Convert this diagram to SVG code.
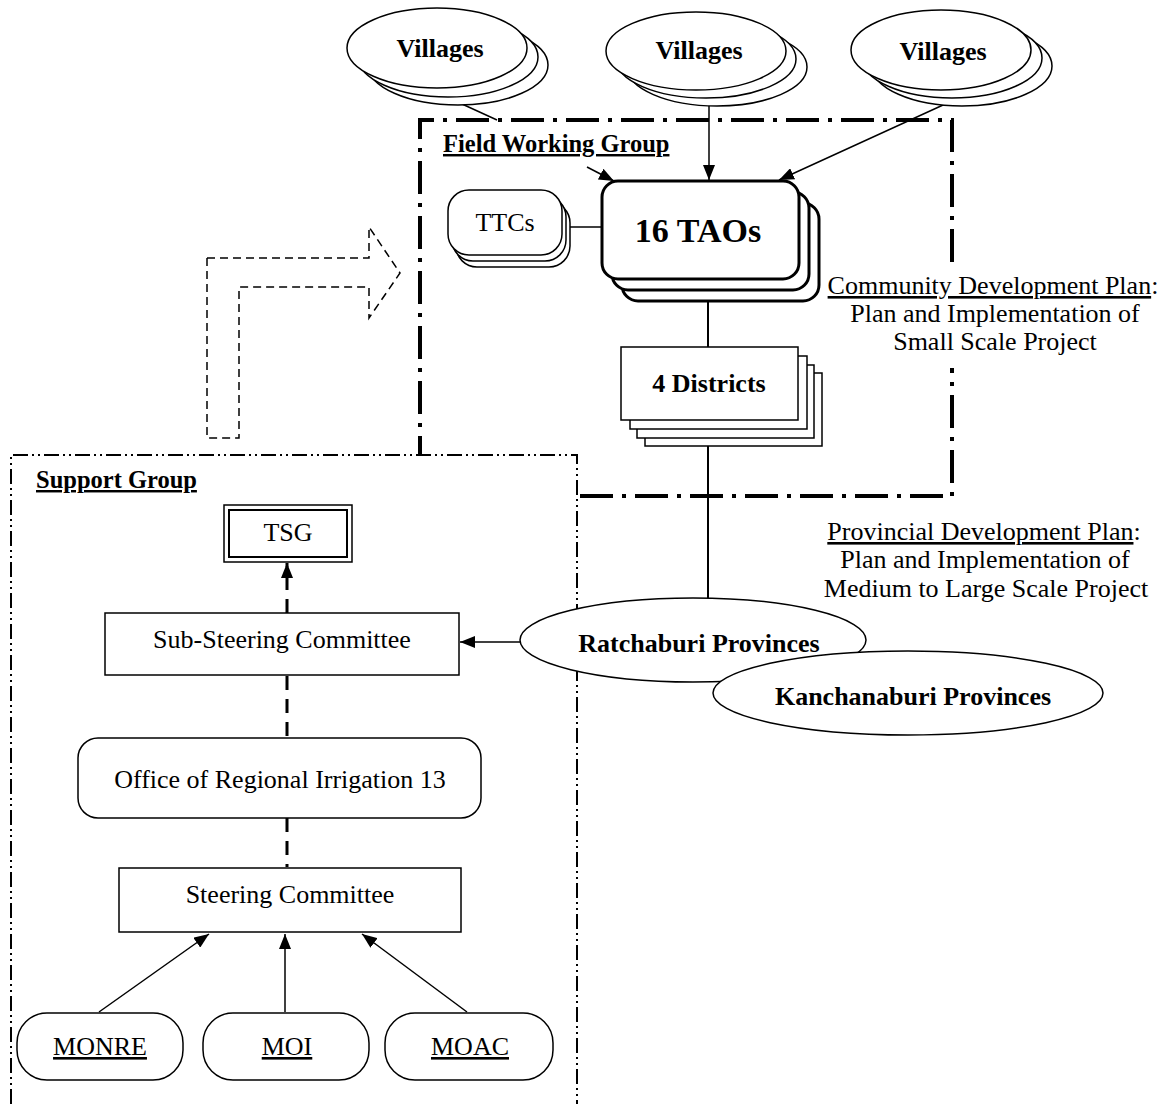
<svg xmlns="http://www.w3.org/2000/svg" width="1168" height="1104" viewBox="0 0 1168 1104">
<style>
text{font-family:"Liberation Serif","Times New Roman",serif;fill:#000}
.t{font-size:26px;text-anchor:middle}
.b{font-size:26px;font-weight:bold;text-anchor:middle}
.lab{font-size:24.5px;font-weight:bold;text-decoration:underline}
.s{fill:#fff;stroke:#000;stroke-width:1.5}
.sk{fill:#fff;stroke:#000;stroke-width:3}
.ln{fill:none;stroke:#000;stroke-width:1.5}
.dl{fill:none;stroke:#000;stroke-width:3;stroke-dasharray:14 9}
</style>
<defs>
<marker id="ah" markerUnits="userSpaceOnUse" markerWidth="16" markerHeight="12" refX="15" refY="6" orient="auto">
<path d="M0,0 L15,6 L0,12 z" fill="#000"/>
</marker>
</defs>

<g id="field-working-group">
<path d="M580,496 H952 V368 M952,262 V120 H420 V455" fill="none" stroke="#000" stroke-width="4" stroke-dasharray="33 9 4 9"/>
<text class="lab" x="443" y="152">Field Working Group</text>
</g>

<g id="support-group">
<path d="M11,1104 V455 H577 V1104" fill="none" stroke="#000" stroke-width="2" stroke-dasharray="15 4 2 4 2 4"/>
<text class="lab" x="36" y="488">Support Group</text>
</g>

<g id="transition-arrow">
<path d="M207,258 H369 V227 L400,273 L369,318 V287 H239 V438 H207 Z" fill="none" stroke="#000" stroke-width="1.5" stroke-dasharray="8 5"/>
</g>

<g id="connectors">
<line class="ln" x1="462" y1="104" x2="497" y2="120"/>
<line class="ln" x1="587" y1="167" x2="614" y2="181" marker-end="url(#ah)"/>
<line class="ln" x1="709" y1="106" x2="709" y2="180" marker-end="url(#ah)"/>
<line class="ln" x1="954" y1="100" x2="779" y2="180" marker-end="url(#ah)"/>
<line class="ln" x1="569" y1="227" x2="602" y2="227"/>
<line x1="708" y1="302" x2="708" y2="347" stroke="#000" stroke-width="2"/>
<line x1="708" y1="446" x2="708" y2="599" stroke="#000" stroke-width="2"/>
<line class="ln" x1="520" y1="642" x2="460" y2="642" marker-end="url(#ah)"/>
<line class="dl" x1="287" y1="613" x2="287" y2="563" marker-end="url(#ah)"/>
<line class="dl" x1="287" y1="676" x2="287" y2="738"/>
<line class="dl" x1="287" y1="818" x2="287" y2="867"/>
<line class="ln" x1="99" y1="1012" x2="209" y2="934" marker-end="url(#ah)"/>
<line class="ln" x1="285" y1="1012" x2="285" y2="934" marker-end="url(#ah)"/>
<line class="ln" x1="467" y1="1012" x2="362" y2="934" marker-end="url(#ah)"/>
</g>

<g id="villages-1">
<ellipse class="s" cx="458" cy="65" rx="90" ry="40"/>
<ellipse class="s" cx="448" cy="57" rx="90" ry="40"/>
<ellipse class="s" cx="437" cy="48" rx="90" ry="40"/>
<text class="b" x="440" y="57">Villages</text>
</g>
<g id="villages-2">
<ellipse class="s" cx="717" cy="67" rx="90" ry="39"/>
<ellipse class="s" cx="706" cy="59" rx="90" ry="39"/>
<ellipse class="s" cx="696" cy="51" rx="90" ry="39"/>
<text class="b" x="699" y="59">Villages</text>
</g>
<g id="villages-3">
<ellipse class="s" cx="962" cy="66" rx="90" ry="40"/>
<ellipse class="s" cx="952" cy="58" rx="90" ry="40"/>
<ellipse class="s" cx="941" cy="50" rx="90" ry="40"/>
<text class="b" x="943" y="60">Villages</text>
</g>

<g id="ttcs">
<rect class="s" x="456" y="202" width="114" height="65" rx="21"/>
<rect class="s" x="452" y="196" width="114" height="65" rx="21"/>
<rect class="s" x="448" y="190" width="114" height="65" rx="21"/>
<text class="t" x="505" y="231">TTCs</text>
</g>

<g id="taos">
<rect class="sk" x="622" y="203" width="197" height="98" rx="16"/>
<rect class="sk" x="612" y="192" width="197" height="98" rx="16"/>
<rect class="sk" x="602" y="181" width="197" height="98" rx="16"/>
<text x="698" y="242" style="font-size:34px;font-weight:bold;text-anchor:middle">16 TAOs</text>
</g>

<g id="districts">
<rect class="s" x="645" y="373" width="177" height="73"/>
<rect class="s" x="637" y="365" width="177" height="73"/>
<rect class="s" x="630" y="356" width="177" height="73"/>
<rect class="s" x="621" y="347" width="177" height="73"/>
<text class="b" x="709" y="392">4 Districts</text>
</g>

<g id="community-plan">
<text class="t" x="993" y="294"><tspan text-decoration="underline">Community Development Plan</tspan>:</text>
<text class="t" x="995" y="322">Plan and Implementation of</text>
<text class="t" x="995" y="350">Small Scale Project</text>
</g>

<g id="provincial-plan">
<text class="t" x="984" y="540"><tspan text-decoration="underline">Provincial Development Plan</tspan>:</text>
<text class="t" x="985" y="568">Plan and Implementation of</text>
<text class="t" x="986" y="597">Medium to Large Scale Project</text>
</g>

<g id="ratchaburi">
<ellipse class="s" cx="693" cy="640" rx="173" ry="42"/>
<text class="b" x="699" y="652">Ratchaburi Provinces</text>
</g>
<g id="kanchanaburi">
<ellipse class="s" cx="908" cy="693" rx="195" ry="42"/>
<text class="b" x="913" y="705">Kanchanaburi Provinces</text>
</g>

<g id="tsg">
<rect class="s" x="224" y="505" width="128" height="57" stroke-width="2"/>
<rect x="229" y="510" width="118" height="47" fill="none" stroke="#000" stroke-width="2"/>
<text class="t" x="288" y="541">TSG</text>
</g>

<g id="sub-steering">
<rect class="s" x="105" y="613" width="354" height="62"/>
<text class="t" x="282" y="648">Sub-Steering Committee</text>
</g>

<g id="office-irrigation">
<rect class="s" x="78" y="738" width="403" height="80" rx="20"/>
<text class="t" x="280" y="788">Office of Regional Irrigation 13</text>
</g>

<g id="steering">
<rect class="s" x="119" y="868" width="342" height="64" stroke-width="2.5"/>
<text class="t" x="290" y="903">Steering Committee</text>
</g>

<g id="monre">
<rect class="s" x="17" y="1013" width="166" height="67" rx="30"/>
<text class="t" x="100" y="1055" text-decoration="underline">MONRE</text>
</g>
<g id="moi">
<rect class="s" x="203" y="1013" width="166" height="67" rx="30"/>
<text class="t" x="287" y="1055" text-decoration="underline">MOI</text>
</g>
<g id="moac">
<rect class="s" x="385" y="1013" width="168" height="67" rx="30"/>
<text class="t" x="470" y="1055" text-decoration="underline">MOAC</text>
</g>
</svg>
